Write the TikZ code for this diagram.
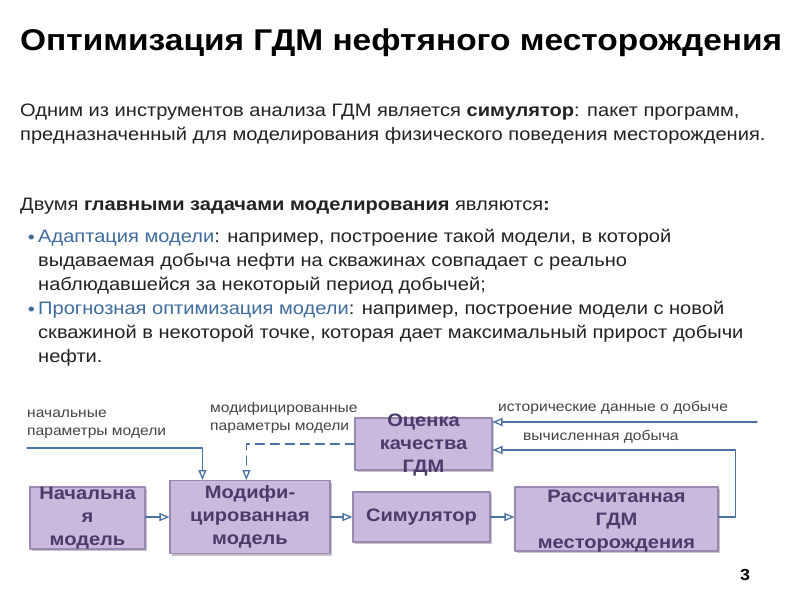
\documentclass[tikz,border=0pt]{standalone}
\usepackage{fontspec}
\setmainfont[FakeStretch=1.115]{Liberation Sans}
\usetikzlibrary{arrows,shadows}
\definecolor{boxfill}{HTML}{C9B9DD}
\definecolor{boxline}{HTML}{9A88B4}
\definecolor{boxtext}{HTML}{4B3B6B}
\definecolor{flow}{HTML}{4B72A3}
\definecolor{hint}{HTML}{3F6B9F}
\definecolor{bodytext}{HTML}{222222}
\tikzset{
  block/.style={draw=boxline,fill=boxfill,line width=1.2pt,inner sep=0pt,
    drop shadow={shadow xshift=2pt,shadow yshift=-2pt,fill=black!45,opacity=0.5}},
  blocktext/.style={text=boxtext,font=\bfseries\fontsize{18}{23}\selectfont,align=center},
  flowline/.style={draw=flow,line width=1.3pt},
  note/.style={text=bodytext!85,font=\fontsize{14}{18}\selectfont,align=left,inner sep=0pt},
  body/.style={text=bodytext,font=\fontsize{18}{23.7}\selectfont,align=left,inner sep=0pt}
}
\begin{document}
\begin{tikzpicture}[line cap=round,line join=round,>=open triangle 45,x=1pt,y=-1pt]
	\useasboundingbox[fill=white] (0,0) rectangle (800,600);
	% text (anchored at the baseline of the last line)
	\node[anchor=base west,inner sep=0pt,font=\bfseries\fontsize{30}{36}\selectfont] (title) at (20,50) {Оптимизация ГДМ нефтяного месторождения};
	\node[body,anchor=base west] (intro) at (20,140) {Одним из инструментов анализа ГДМ является \textbf{симулятор}: пакет программ,\\предназначенный для моделирования физического поведения месторождения.};
	\node[body,anchor=base west] (tasks) at (20,210) {Двумя \textbf{главными задачами моделирования} являются\textbf{:}};
	\node[body,anchor=base west] (adapt) at (38,290) {\textcolor{hint}{Адаптация модели}: например, построение такой модели, в которой\\выдаваемая добыча нефти на скважинах совпадает с реально\\наблюдавшейся за некоторый период добычей;};
	\node[body,anchor=base west] (prog) at (38,362) {\textcolor{hint}{Прогнозная оптимизация модели}: например, построение модели с новой\\скважиной в некоторой точке, которая дает максимальный прирост добычи\\нефти.};
	\node[body,anchor=base east,text=hint] (b1) at (35,243) {\textbullet};
	\node[body,anchor=base east,text=hint] (b2) at (35,315) {\textbullet};
	% blocks
	\node[block,minimum width=115pt,minimum height=62pt,label={[blocktext]center:{Начальна\\я\\модель}}] (init) at (87.5,518) {};
	\node[block,minimum width=160pt,minimum height=73pt,label={[blocktext]center:{Модифи-\\цированная\\модель}}] (modif) at (250,517) {};
	\node[block,minimum width=137pt,minimum height=52pt,label={[blocktext,yshift=-1pt]center:{Оценка\\качества\\ГДМ}}] (qual) at (423.5,444) {};
	\node[block,minimum width=137pt,minimum height=50pt,label={[blocktext]center:{Симулятор}}] (sim) at (421.5,517) {};
	\node[block,minimum width=203pt,minimum height=64pt,label={[blocktext,yshift=-2pt]center:{Рассчитанная\\ГДМ\\месторождения}}] (calc) at (616.5,519) {};
	% connectors
	\coordinate (start) at (27,448);
	\coordinate (hist) at (757,422);
	\draw[flowline,->] (start) -| ([xshift=33pt]modif.north west);
	\draw[flowline,dashed,dash pattern=on 9pt off 6pt,->] (qual.west) -| ([xshift=77pt]modif.north west);
	\draw[flowline,->] (init.east |- modif.west) -- (modif.west);
	\draw[flowline,->] (modif.east) -- (sim.west);
	\draw[flowline,->] (sim.east) -- (sim.east -| calc.west);
	\draw[flowline,->] (calc.east |- sim.east) -- ++(17,0) |- ([yshift=-6pt]qual.east);
	\draw[flowline,->] (hist) -- (hist -| qual.east);
	% labels
	\node[note,anchor=base west] (startlbl) at (27,435) {начальные\\параметры модели};
	\node[note,anchor=base west] (modiflbl) at (210,430) {модифицированные\\параметры модели};
	\node[note,anchor=base west] (histlbl) at (498,411) {исторические данные о добыче};
	\node[note,anchor=base west] (calclbl) at (523,440) {вычисленная добыча};
	\node[anchor=base,inner sep=0pt,font=\bfseries\fontsize{16}{16}\selectfont] (page) at (745,580) {3};
\end{tikzpicture}
\end{document}
